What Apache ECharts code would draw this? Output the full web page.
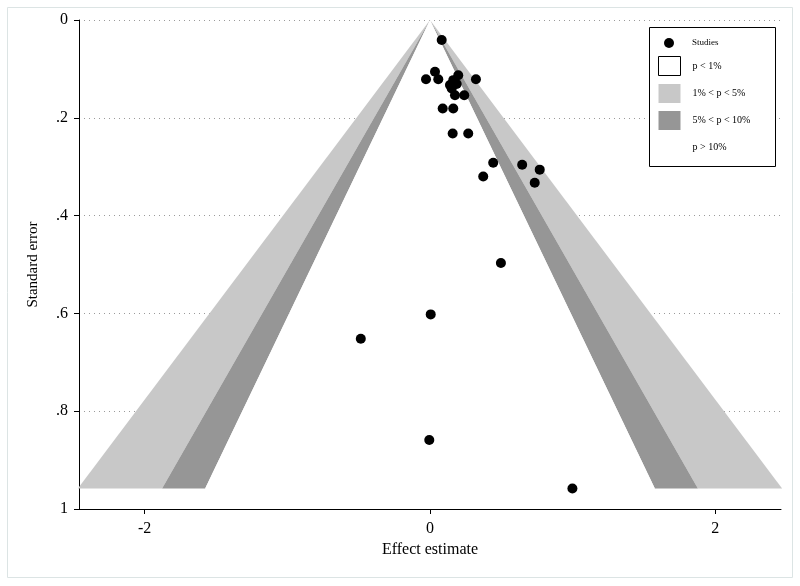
<!DOCTYPE html>
<html>
<head>
<meta charset="utf-8">
<script src="https://cdn.jsdelivr.net/npm/echarts@6/dist/echarts.min.js"></script>
<style>
html,body{margin:0;padding:0;background:#fff;}
#chart{width:800px;height:586px;}
</style>
</head>
<body>
<div id="chart"></div>
<script>
// Study effect estimates and standard errors
const effect = [0.082, -0.028, 0.035, 0.058, 0.198, 0.163, 0.140, 0.187, 0.152, 0.322,
                0.175, 0.240, 0.089, 0.163, 0.159, 0.268, 0.443, 0.373, 0.646, 0.769,
                0.734, 0.497, 0.005, -0.485, -0.005, 0.998];
const stdErr = [0.041, 0.121, 0.106, 0.121, 0.113, 0.123, 0.133, 0.131, 0.140, 0.121,
                0.154, 0.154, 0.181, 0.181, 0.232, 0.232, 0.292, 0.320, 0.296, 0.306,
                0.333, 0.497, 0.602, 0.652, 0.859, 0.958];
// Contour critical values (two-sided p = 1%, 5%, 10%), outer to inner
const zOuter = [2.576, 1.96, 1.645];
const zInner = [1.96, 1.645, 0];
const contourNames = ['1% < p < 5%', '5% < p < 10%', 'p > 10%'];
const contourColors = ['#c8c8c8', '#969696', '#ffffff'];
const xTicks = [-2, 0, 2];
const legendNames = ['p < 1%', '1% < p < 5%', '5% < p < 10%', 'p > 10%'];

const seMax = Math.max(...stdErr);
const serif = 'Liberation Serif';

function fmtY(v) {
  if (v === 0) return '0';
  if (v === 1) return '1';
  return String(Math.round(v * 10) / 10).replace(/^0/, '');
}

const contourSeries = zOuter.map((z, i) => ({
  name: contourNames[i],
  type: 'custom',
  z: 2,
  silent: true,
  itemStyle: { color: contourColors[i] },
  data: [[z, zInner[i], seMax]],
  renderItem: function (params, api) {
    const zo = api.value(0), zi = api.value(1), s = api.value(2);
    const a = api.coord([0, 0]);
    const style = { fill: contourColors[i] };
    if (zi === 0) {
      return { type: 'polygon', shape: { points: [a, api.coord([-zo * s, s]), api.coord([zo * s, s])] }, style };
    }
    return {
      type: 'group',
      children: [
        { type: 'polygon', shape: { points: [a, api.coord([-zo * s, s]), api.coord([-zi * s, s])] }, style },
        { type: 'polygon', shape: { points: [a, api.coord([zi * s, s]), api.coord([zo * s, s])] }, style }
      ]
    };
  }
}));

const chart = echarts.init(document.getElementById('chart'));
chart.setOption({
  backgroundColor: '#fff',
  animation: false,
  grid: { left: 79, right: 19, top: 20, bottom: 77, containLabel: false },
  xAxis: {
    type: 'value',
    position: 'bottom',
    min: -2.46, max: 2.46,
    name: 'Effect estimate',
    nameLocation: 'middle',
    nameGap: 30,
    nameTextStyle: { fontFamily: serif, fontSize: 16, color: '#000' },
    axisLine: { show: true, onZero: false, lineStyle: { color: '#000', width: 1 } },
    axisTick: { show: true, customValues: xTicks, length: 5, lineStyle: { color: '#000' } },
    axisLabel: { customValues: xTicks, fontFamily: serif, fontSize: 16, color: '#000', margin: 12,
                 formatter: v => String(v) },
    splitLine: { show: false }
  },
  yAxis: {
    type: 'value',
    position: 'left',
    inverse: true,
    min: 0, max: 1, interval: 0.2,
    name: 'Standard error',
    nameLocation: 'middle',
    nameGap: 38,
    nameTextStyle: { fontFamily: serif, fontSize: 15, color: '#000' },
    axisLine: { show: true, onZero: false, lineStyle: { color: '#000', width: 1 } },
    axisTick: { show: true, length: 5, lineStyle: { color: '#000' } },
    axisLabel: { fontFamily: serif, fontSize: 16, color: '#000', margin: 11,
                 formatter: v => fmtY(v) },
    splitLine: { show: true, lineStyle: { color: '#9a9a9a', type: [1, 4], width: 1 } }
  },
  legend: [
    {
      data: [{ name: 'Studies', icon: 'circle' }],
      left: 664, top: 38, padding: 0,
      itemWidth: 10, itemHeight: 10,
      selectedMode: false, z: 10,
      textStyle: { fontFamily: serif, fontSize: 9, color: '#000', padding: [0, 0, 0, 13] }
    },
    {
      data: [
        { name: legendNames[0], icon: 'rect', itemStyle: { color: '#ffffff', borderColor: '#000', borderWidth: 1 } },
        { name: legendNames[1], icon: 'rect', itemStyle: { color: '#c8c8c8', borderWidth: 0 } },
        { name: legendNames[2], icon: 'rect', itemStyle: { color: '#969696', borderWidth: 0 } },
        { name: legendNames[3], icon: 'rect', itemStyle: { color: 'rgba(0,0,0,0)', borderWidth: 0 } }
      ],
      orient: 'vertical',
      left: 658, top: 56, padding: 0,
      itemWidth: 22, itemHeight: 19, itemGap: 8,
      selectedMode: false, z: 10,
      textStyle: { fontFamily: serif, fontSize: 10, color: '#000', padding: [0, 0, 0, 7] }
    }
  ],
  graphic: [
    { type: 'rect', z: -10, silent: true, shape: { x: 7.5, y: 7.5, width: 785, height: 570 },
      style: { fill: 'none', stroke: '#dce4e4', lineWidth: 1 } },
    { type: 'rect', z: 9, silent: true, shape: { x: 649.5, y: 27.5, width: 126, height: 139 },
      style: { fill: '#fff', stroke: '#000', lineWidth: 1 } }
  ],
  series: [
    { name: 'p < 1%', type: 'custom', data: [], renderItem: () => null, itemStyle: { color: '#fff' } },
    ...contourSeries,
    {
      name: 'Studies',
      type: 'scatter',
      z: 5,
      symbol: 'circle',
      symbolSize: 10,
      itemStyle: { color: '#000', opacity: 1 },
      data: effect.map((e, i) => [e, stdErr[i]])
    }
  ]
});
</script>
</body>
</html>
